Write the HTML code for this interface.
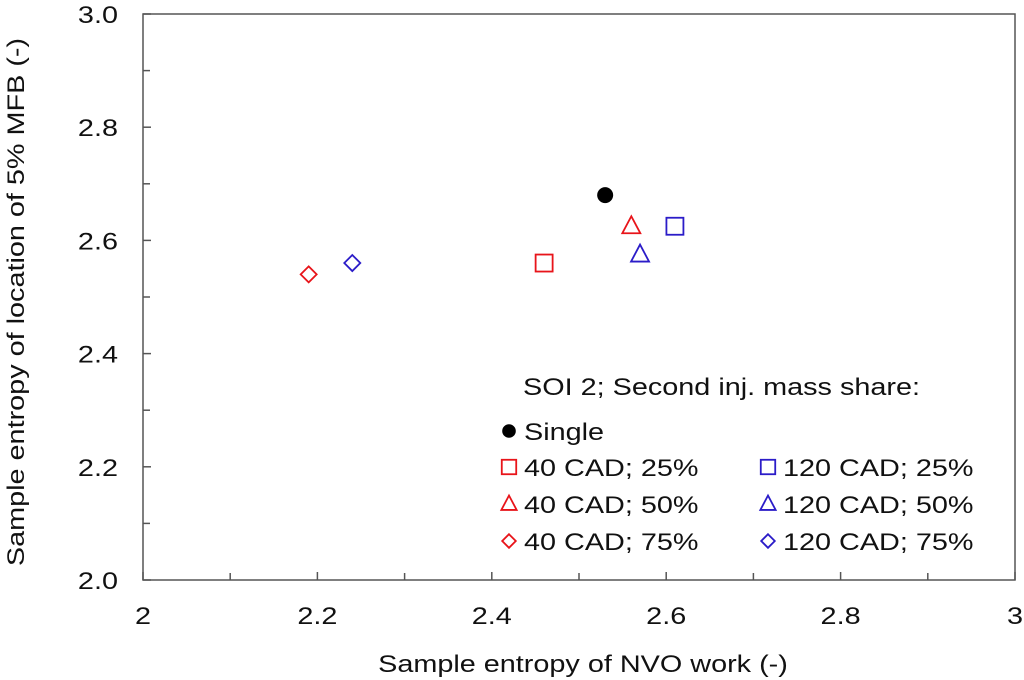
<!DOCTYPE html>
<html><head><meta charset="utf-8"><style>
body{margin:0;background:#fff;}
svg{display:block;font-family:"Liberation Sans",Arial,sans-serif;}
</style></head><body>
<svg id="chart" width="1024" height="680">
<g id="axes"></g><g id="marks"></g><g id="legend"></g>
</svg>
<script>
const xTicks=[2,2.2,2.4,2.6,2.8,3];
const xTickLabels=["2","2.2","2.4","2.6","2.8","3"];
const yTicks=[2.0,2.2,2.4,2.6,2.8,3.0];
const yTickLabels=["2.0","2.2","2.4","2.6","2.8","3.0"];
const seriesNames=["Single","40 CAD; 25%","40 CAD; 50%","40 CAD; 75%","120 CAD; 25%","120 CAD; 50%","120 CAD; 75%"];
const xValues=[2.53,2.46,2.56,2.19,2.61,2.57,2.24];
const yValues=[2.68,2.56,2.625,2.54,2.625,2.575,2.56];
const NS="http://www.w3.org/2000/svg";
const L=143,R=1015,T=14,B=580;
const xs=v=>L+(v-2)*(R-L);
const ys=v=>B-(v-2)*(B-T);
const FS=24,STRETCH=1.2;
function mk(tag,attrs,parent){const e=document.createElementNS(NS,tag);for(const k in attrs)e.setAttribute(k,attrs[k]);parent.appendChild(e);return e;}
function txt(parent,x,y,s,anchor,extra){
  const e=mk('text',Object.assign({x:x,y:y,'text-anchor':anchor,'font-size':FS,fill:'#111'},extra||{}),parent);
  e.textContent=s;
  const w=e.getComputedTextLength();
  e.setAttribute('textLength',w*STRETCH);
  e.setAttribute('lengthAdjust','spacingAndGlyphs');
  return e;
}
const axes=document.getElementById('axes');
const frame=mk('rect',{x:L,y:T,width:R-L,height:B-T,fill:'none',stroke:'#555','stroke-width':1.5},axes);


for(let i=0;i<xTicks.length;i++){
  const x=xs(xTicks[i]);
  const t=mk('line',{x1:x,x2:x,y1:B,y2:B-8,stroke:'#555','stroke-width':1.5},axes);
  
  
  if(i<xTicks.length-1){const m=xs((xTicks[i]+xTicks[i+1])/2);const mt=mk('line',{x1:m,x2:m,y1:B,y2:B-7,stroke:'#555','stroke-width':1.5},axes);
  
  }
  const lb=txt(axes,x,B+44,xTickLabels[i],'middle');
  
  
}
for(let i=0;i<yTicks.length;i++){
  const y=ys(yTicks[i]);
  const t=mk('line',{x1:L,x2:L+8,y1:y,y2:y,stroke:'#555','stroke-width':1.5},axes);
  
  
  if(i<yTicks.length-1){const m=ys((yTicks[i]+yTicks[i+1])/2);const mt=mk('line',{x1:L,x2:L+7,y1:m,y2:m,stroke:'#555','stroke-width':1.5},axes);
  
  }
  const lb=txt(axes,L-25,y+9,yTickLabels[i],'end');
  
  
}
const xt=txt(axes,583,672,"Sample entropy of NVO work (-)",'middle');


const yt=txt(axes,0,0,"Sample entropy of location of 5% MFB (-)",'middle',{transform:'translate(24,302) rotate(-90)'});


const colors=['#000','#e8141a','#e8141a','#e8141a','#2b1cc8','#2b1cc8','#2b1cc8'];
const shapes=['dot','sq','tri','dia','sq','tri','dia'];
function marker(g,shape,cx,cy,c,s){
  if(shape==='dot')return mk('circle',{cx:cx,cy:cy,r:8*s,fill:c},g);
  if(shape==='sq')return mk('rect',{x:cx-8.5*s,y:cy-8.5*s,width:17*s,height:17*s,fill:'none',stroke:c,'stroke-width':1.8},g);
  if(shape==='tri')return mk('polygon',{points:`${cx},${cy-10*s} ${cx+9*s},${cy+7*s} ${cx-9*s},${cy+7*s}`,fill:'none',stroke:c,'stroke-width':1.8},g);
  return mk('polygon',{points:`${cx},${cy-8*s} ${cx+8*s},${cy} ${cx},${cy+8*s} ${cx-8*s},${cy}`,fill:'none',stroke:c,'stroke-width':1.8},g);
}
const marks=document.getElementById('marks');
for(let i=0;i<xValues.length;i++){
  const m=marker(marks,shapes[i],xs(xValues[i]),ys(yValues[i]),colors[i],1);
  
  
}
const leg=document.getElementById('legend');
const lt=txt(leg,523,395,"SOI 2; Second inj. mass share:",'start');


const legPos=[[509,431],[509,467],[509,504],[509,541],[768,467],[768,504],[768,541]];
for(let i=0;i<seriesNames.length;i++){
  const [lx,ly]=legPos[i];
  const m=marker(leg,shapes[i],lx,ly,colors[i],0.85);
  
  
  const tx=txt(leg,lx+15,ly+9,seriesNames[i],'start');
  
  
}
</script>
</body></html>
